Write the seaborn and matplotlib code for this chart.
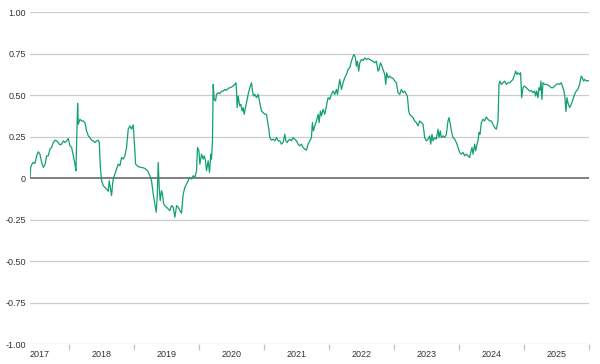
import pandas as pd
import matplotlib.pyplot as plt
import numpy as np
import seaborn as sns

sns.set_style('white')
plt.rcParams['font.family'] = ['Liberation Sans', 'DejaVu Sans']

# rolling correlation (decimal year, value)
years = [
    2017.407, 2017.417, 2017.432, 2017.458, 2017.483, 2017.509, 2017.535, 2017.560, 2017.586, 2017.611,
    2017.637, 2017.663, 2017.688, 2017.714, 2017.739, 2017.765, 2017.791, 2017.816, 2017.842, 2017.867,
    2017.893, 2017.919, 2017.944, 2017.970, 2017.995, 2018.021, 2018.047, 2018.072, 2018.098, 2018.113,
    2018.129, 2018.139, 2018.149, 2018.175, 2018.200, 2018.226, 2018.251, 2018.277, 2018.303, 2018.328,
    2018.354, 2018.379, 2018.405, 2018.431, 2018.456, 2018.472, 2018.487, 2018.507, 2018.533, 2018.559,
    2018.584, 2018.610, 2018.625, 2018.641, 2018.661, 2018.676, 2018.692, 2018.712, 2018.738, 2018.763,
    2018.789, 2018.815, 2018.840, 2018.866, 2018.891, 2018.917, 2018.943, 2018.968, 2018.994, 2019.019,
    2019.030, 2019.071, 2019.122, 2019.173, 2019.214, 2019.250, 2019.275, 2019.301, 2019.327, 2019.347,
    2019.362, 2019.378, 2019.393, 2019.409, 2019.429, 2019.444, 2019.460, 2019.480, 2019.506, 2019.531,
    2019.557, 2019.583, 2019.608,
    2019.634, 2019.660, 2019.685, 2019.711, 2019.736, 2019.762, 2019.788, 2019.813, 2019.839, 2019.864,
    2019.890, 2019.916, 2019.941, 2019.967, 2019.982, 2020.003, 2020.018, 2020.044, 2020.069, 2020.085,
    2020.105, 2020.120, 2020.146, 2020.166, 2020.187, 2020.197, 2020.212, 2020.223, 2020.238, 2020.259,
    2020.274, 2020.299, 2020.325, 2020.351, 2020.376, 2020.402, 2020.427, 2020.453, 2020.479, 2020.504,
    2020.530, 2020.556, 2020.571, 2020.581, 2020.591, 2020.607, 2020.622, 2020.632, 2020.648, 2020.668,
    2020.684, 2020.699, 2020.719, 2020.735, 2020.760, 2020.786, 2020.812, 2020.827, 2020.842, 2020.863,
    2020.888, 2020.914, 2020.940, 2020.965, 2020.991, 2021.016, 2021.042, 2021.057, 2021.078, 2021.093,
    2021.119, 2021.144, 2021.170, 2021.196, 2021.221, 2021.247, 2021.272, 2021.298, 2021.324, 2021.339,
    2021.359, 2021.375, 2021.400, 2021.426, 2021.451, 2021.477, 2021.503, 2021.528, 2021.554, 2021.580,
    2021.605, 2021.631, 2021.656, 2021.682, 2021.708, 2021.733, 2021.748,
    2021.764, 2021.784, 2021.810, 2021.836, 2021.851, 2021.871, 2021.887, 2021.912, 2021.938, 2021.964,
    2021.989, 2022.015, 2022.040, 2022.066, 2022.092, 2022.117, 2022.133, 2022.153, 2022.168, 2022.194,
    2022.220, 2022.245, 2022.271, 2022.296, 2022.322, 2022.348, 2022.373, 2022.389, 2022.409, 2022.424,
    2022.440, 2022.460, 2022.476, 2022.501, 2022.527, 2022.552, 2022.578, 2022.604, 2022.629, 2022.655,
    2022.680, 2022.706, 2022.732, 2022.757, 2022.773, 2022.793, 2022.808, 2022.834, 2022.860, 2022.875,
    2022.890, 2022.911, 2022.936, 2022.962, 2022.988, 2023.013, 2023.039, 2023.064, 2023.090, 2023.116,
    2023.141, 2023.167, 2023.192, 2023.208, 2023.228, 2023.243, 2023.269, 2023.295, 2023.320, 2023.346,
    2023.372, 2023.397, 2023.423, 2023.448, 2023.474, 2023.500, 2023.525, 2023.551, 2023.566, 2023.586,
    2023.602, 2023.627, 2023.653, 2023.679, 2023.694, 2023.714, 2023.730, 2023.756, 2023.781, 2023.807,
    2023.832, 2023.848, 2023.868, 2023.884,
    2023.909, 2023.935, 2023.961, 2023.986, 2024.012, 2024.037, 2024.063, 2024.089, 2024.114, 2024.140,
    2024.165, 2024.181, 2024.201, 2024.217, 2024.242, 2024.258, 2024.278, 2024.293, 2024.309, 2024.324,
    2024.345, 2024.370, 2024.396, 2024.421, 2024.447, 2024.473, 2024.498, 2024.524, 2024.549, 2024.575,
    2024.601, 2024.616, 2024.631, 2024.652, 2024.677, 2024.703, 2024.729, 2024.754, 2024.780, 2024.805,
    2024.831, 2024.857, 2024.872, 2024.893, 2024.908, 2024.934, 2024.949, 2024.964, 2024.985, 2025.010,
    2025.036, 2025.061, 2025.087, 2025.113, 2025.138, 2025.164, 2025.179, 2025.195, 2025.215, 2025.230,
    2025.246, 2025.261, 2025.276, 2025.292, 2025.317, 2025.343, 2025.369, 2025.394, 2025.420, 2025.446,
    2025.471, 2025.497, 2025.522, 2025.548, 2025.574, 2025.599, 2025.615, 2025.630, 2025.645, 2025.661,
    2025.676, 2025.702, 2025.727, 2025.753, 2025.778, 2025.804, 2025.829, 2025.855, 2025.881, 2025.896,
    2025.917, 2025.932, 2025.958, 2025.983, 2026.000,
]
corr = [
    0.000, 0.064, 0.080, 0.094, 0.088, 0.134, 0.158, 0.144, 0.094, 0.064,
    0.080, 0.134, 0.134, 0.174, 0.184, 0.214, 0.228, 0.224, 0.214, 0.200,
    0.204, 0.224, 0.214, 0.224, 0.238, 0.194, 0.184, 0.134, 0.084, 0.044,
    0.304, 0.450, 0.324, 0.354, 0.344, 0.344, 0.334, 0.284, 0.254, 0.244,
    0.228, 0.224, 0.214, 0.224, 0.228, 0.214, 0.074, -0.016, -0.046, -0.056,
    -0.066, -0.080, -0.016, -0.056, -0.106, -0.036, 0.004, 0.024, 0.054, 0.084,
    0.074, 0.124, 0.114, 0.134, 0.184, 0.294, 0.314, 0.294, 0.320, 0.164,
    0.084, 0.068, 0.064, 0.058, 0.044, 0.014, -0.016, -0.096, -0.156, -0.206,
    -0.116, 0.094, -0.056, -0.136, -0.076, -0.096, -0.156, -0.166, -0.176, -0.186,
    -0.196, -0.166, -0.176,
    -0.236, -0.166, -0.176, -0.196, -0.212, -0.096, -0.056, -0.036, -0.016, 0.004,
    -0.006, 0.014, 0.004, 0.044, 0.184, 0.164, 0.084, 0.144, 0.114, 0.134,
    0.104, 0.044, 0.104, 0.034, 0.144, 0.114, 0.224, 0.564, 0.474, 0.464,
    0.504, 0.514, 0.508, 0.524, 0.524, 0.534, 0.528, 0.540, 0.544, 0.548,
    0.554, 0.564, 0.574, 0.534, 0.424, 0.494, 0.454, 0.434, 0.444, 0.404,
    0.424, 0.384, 0.424, 0.454, 0.504, 0.544, 0.574, 0.524, 0.494, 0.504,
    0.484, 0.504, 0.454, 0.404, 0.394, 0.384, 0.384, 0.344, 0.294, 0.244,
    0.228, 0.234, 0.224, 0.244, 0.224, 0.224, 0.204, 0.214, 0.264, 0.224,
    0.214, 0.224, 0.234, 0.224, 0.244, 0.234, 0.224, 0.204, 0.194, 0.204,
    0.184, 0.174, 0.168, 0.204, 0.224, 0.244, 0.334,
    0.284, 0.314, 0.344, 0.384, 0.334, 0.404, 0.374, 0.414, 0.384, 0.434,
    0.484, 0.474, 0.504, 0.524, 0.504, 0.534, 0.504, 0.554, 0.594, 0.534,
    0.574, 0.604, 0.624, 0.654, 0.664, 0.704, 0.734, 0.744, 0.724, 0.674,
    0.704, 0.644, 0.694, 0.714, 0.708, 0.724, 0.714, 0.720, 0.714, 0.708,
    0.704, 0.694, 0.704, 0.644, 0.654, 0.694, 0.684, 0.654, 0.624, 0.564,
    0.634, 0.604, 0.614, 0.604, 0.600, 0.584, 0.574, 0.514, 0.504, 0.534,
    0.514, 0.524, 0.504, 0.494, 0.404, 0.384, 0.374, 0.364, 0.344, 0.334,
    0.314, 0.344, 0.334, 0.324, 0.244, 0.224, 0.234, 0.254, 0.204, 0.264,
    0.224, 0.244, 0.234, 0.294, 0.244, 0.284, 0.244, 0.254, 0.244, 0.264,
    0.344, 0.364, 0.324, 0.284,
    0.244, 0.234, 0.214, 0.184, 0.154, 0.144, 0.154, 0.134, 0.144, 0.134,
    0.124, 0.154, 0.184, 0.144, 0.204, 0.164, 0.204, 0.224, 0.274, 0.264,
    0.334, 0.354, 0.344, 0.368, 0.354, 0.344, 0.344, 0.324, 0.304, 0.294,
    0.344, 0.564, 0.584, 0.564, 0.574, 0.584, 0.564, 0.574, 0.574, 0.584,
    0.594, 0.624, 0.644, 0.624, 0.634, 0.624, 0.634, 0.484, 0.544, 0.554,
    0.544, 0.534, 0.524, 0.528, 0.514, 0.524, 0.494, 0.524, 0.484, 0.544,
    0.528, 0.584, 0.474, 0.574, 0.564, 0.564, 0.560, 0.554, 0.544, 0.544,
    0.554, 0.564, 0.568, 0.564, 0.574, 0.544, 0.524, 0.484, 0.400, 0.484,
    0.454, 0.424, 0.444, 0.474, 0.504, 0.524, 0.534, 0.564, 0.614, 0.604,
    0.584, 0.594, 0.584, 0.588, 0.584,
]
year_labels = ['2017', '2018', '2019', '2020', '2021', '2022', '2023', '2024', '2025']
y_ticks = [1.0, 0.75, 0.5, 0.25, 0, -0.25, -0.5, -0.75, -1.0]
y_labels = ['1.00', '0.75', '0.50', '0.25', '0', '-0.25', '-0.50', '-0.75', '-1.00']

df = pd.DataFrame({'year': years, 'corr': corr})

fig = plt.figure(figsize=(6, 3.64), dpi=100)
ax = fig.add_axes([0.05, 0.0549, 0.9317, 0.912])

for t in y_ticks:
    if t == 0:
        ax.axhline(t, color='#7f7f7f', lw=1.4, zorder=1)
    else:
        ax.axhline(t, color='#cccccc', lw=0.9, zorder=1)

sns.lineplot(data=df, x='year', y='corr', ax=ax, color='#12a06e', lw=0.9, zorder=3)

x0, x1 = years[0], 2026.0
ax.set_xlim(x0, x1)
ax.set_ylim(-1.0, 1.0)
for s in ax.spines.values():
    s.set_visible(False)

ax.set_yticks(y_ticks)
ax.set_yticklabels(y_labels)
ax.tick_params(axis='y', length=0, pad=3, labelsize=6.5, labelcolor='#333333')

# year boundaries as ticks, labels centred between them
ax.set_xticks(list(range(2018, 2027)))
ax.set_xticklabels([])
ax.tick_params(axis='x', which='both', bottom=True)
ax.tick_params(axis='x', which='major', length=4, width=0.9, color='#c4c4c4', direction='out')
centres = [x0] + [y + 0.5 for y in range(2018, 2026)]
ax.set_xticks(centres, minor=True)
ax.set_xticklabels(year_labels, minor=True)
ax.tick_params(axis='x', which='minor', length=0, pad=4, labelsize=6.5, labelcolor='#333333')
ax.get_xticklabels(minor=True)[0].set_ha('left')

ax.set_xlabel('')
ax.set_ylabel('')
ax.grid(False)

plt.savefig('out.png', dpi=100)
